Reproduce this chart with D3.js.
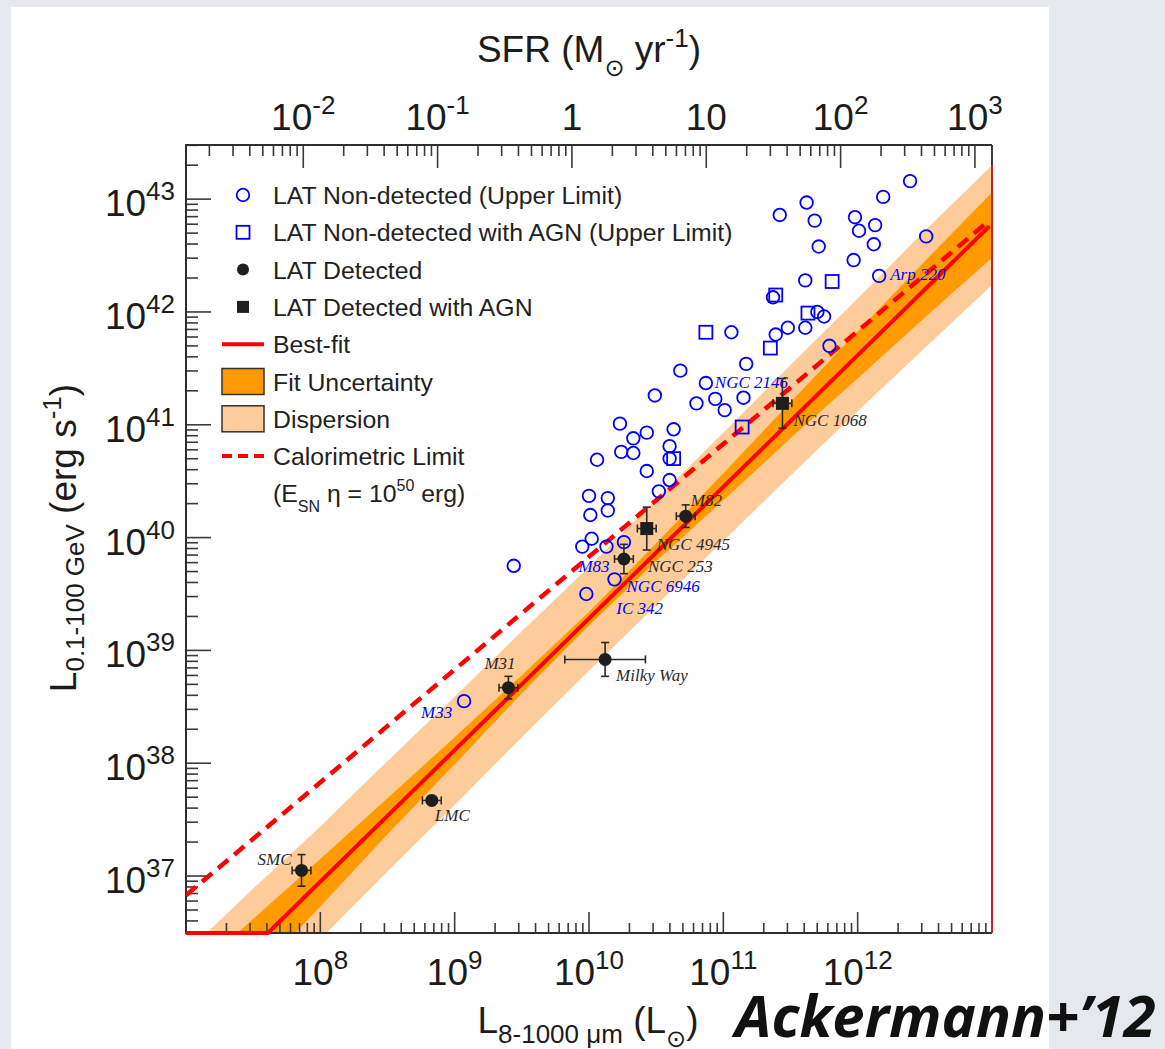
<!DOCTYPE html>
<html>
<head>
<meta charset="utf-8">
<script src="https://cdn.jsdelivr.net/npm/d3@7"></script>
<style>
    html, body { margin: 0; padding: 0; background: #e5e8ec; }
    svg { display: block; }
</style>
</head>
<body>
<svg id="chart" width="1165" height="1049"></svg>
<script>
// Gamma-ray vs. total IR luminosity of star-forming galaxies (Ackermann+ 2012).
// Every value below is log10 of a luminosity.

// LAT detected galaxies (filled circles)
const detNames = ["SMC", "LMC", "M31", "Milky Way", "NGC 253", "M82"];
const detLogLIR = [7.86, 8.83, 9.40, 10.12, 10.26, 10.72];
const detLogLG = [37.05, 37.67, 38.67, 38.92, 39.81, 40.19];
const detErrLIR = [0.07, 0.07, 0.07, 0.30, 0.07, 0.07];
const detErrLG = [0.14, 0.03, 0.10, 0.15, 0.13, 0.10];

// LAT detected with AGN (filled squares)
const agnNames = ["NGC 4945", "NGC 1068"];
const agnLogLIR = [10.43, 11.44];
const agnLogLG = [40.08, 41.19];
const agnErrLIR = [0.07, 0.07];
const agnErrLG = [0.19, 0.22];

// LAT non-detected, upper limits (open circles). The first six carry a name.
const ulNames = ["Arp 220", "NGC 2146", "M83", "NGC 6946", "IC 342", "M33"];
const ulLogLIR = [12.16, 10.87, 10.13, 10.19, 9.98, 9.07,
    12.39, 12.19, 11.62, 11.42, 11.68, 11.98, 12.13, 12.01, 12.51, 11.71,
    12.12, 11.97, 11.61, 11.37, 11.70, 11.75, 11.48, 11.61, 11.39, 11.06,
    11.79, 11.17, 10.68, 10.49, 10.80, 10.94, 11.15, 11.01, 10.23, 10.43,
    10.63, 10.33, 10.60, 10.24, 10.33, 10.60, 10.06, 10.43, 10.60, 10.52,
    10.00, 10.14, 10.01, 10.14, 10.02, 9.95, 10.26, 9.44];
const ulLogLG = [42.32, 41.37, 39.92, 39.63, 39.50, 38.55,
    43.16, 43.02, 42.97, 42.86, 42.81, 42.84, 42.77, 42.72, 42.67, 42.58,
    42.60, 42.46, 42.28, 42.13, 42.00, 41.96, 41.86, 41.86, 41.80, 41.82,
    41.70, 41.54, 41.48, 41.26, 41.19, 41.23, 41.24, 41.13, 41.01, 40.93,
    40.96, 40.88, 40.81, 40.76, 40.75, 40.70, 40.69, 40.59, 40.51, 40.41,
    40.37, 40.35, 40.20, 40.24, 39.99, 39.92, 39.96, 39.75];

// LAT non-detected with AGN, upper limits (open squares)
const ulAgnLogLIR = [11.81, 11.39, 11.63, 10.87, 11.35, 11.14, 10.63];
const ulAgnLogLG = [42.27, 42.15, 41.99, 41.82, 41.68, 40.98, 40.70];

// Best-fit line (runs along the lower frame until it enters the plot)
const fitLogLIR = [7.00, 7.61, 12.98];
const fitLogLG = [36.495, 36.495, 42.76];

// Calorimetric limit (E_SN eta = 1e50 erg)
const caloLogLIR = [7.00, 12.98];
const caloLogLG = [36.83, 42.81];

// Fit-uncertainty and dispersion bands
const bandLogLIR = [7.0, 7.5, 8.0, 8.5, 9.0, 9.5, 10.0, 10.5, 11.0, 11.5, 12.0, 12.5, 13.0];
const uncLo = [35.46, 36.10, 36.73, 37.37, 37.99, 38.62, 39.22, 39.79, 40.33, 40.88, 41.41, 41.95, 42.48];
const uncHi = [36.08, 36.62, 37.15, 37.69, 38.23, 38.78, 39.34, 39.95, 40.57, 41.20, 41.83, 42.45, 43.06];
const dispLo = [35.22, 35.83, 36.44, 37.04, 37.63, 38.23, 38.82, 39.40, 39.97, 40.55, 41.12, 41.68, 42.24];
const dispHi = [36.32, 36.89, 37.44, 38.02, 38.59, 39.17, 39.74, 40.34, 40.93, 41.53, 42.12, 42.72, 43.30];

// SFR per unit L_IR used for the top axis
const sfrPerLIR = 1.34e-10;

const legendItems = [
    "LAT Non-detected (Upper Limit)",
    "LAT Non-detected with AGN (Upper Limit)",
    "LAT Detected",
    "LAT Detected with AGN",
    "Best-fit",
    "Fit Uncertainty",
    "Dispersion",
    "Calorimetric Limit"
];

// label offsets (px) from the marker to the start of the name
const labelOffset = {
    "Arp 220": [11, 4], "NGC 2146": [9, 5], "M83": [-28, 25], "NGC 6946": [12, 13],
    "IC 342": [30, 20], "M33": [-43, 17], "SMC": [-44, -5], "LMC": [3, 21],
    "M31": [-24, -19], "Milky Way": [11, 22], "NGC 253": [24, 13], "M82": [5, -10],
    "NGC 4945": [10, 21], "NGC 1068": [11, 23]
};

const sans = "'Liberation Sans', Arial, Helvetica, sans-serif";
const serif = "'Liberation Serif', 'Times New Roman', serif";
const red = "#ff0000";
const blue = "#0000ff";
const ink = "#1c1c1c";

const frame = { left: 186, right: 992, top: 145, bottom: 933 };

const x = d3.scaleLog().domain([1e7, 1e13]).range([frame.left, frame.right]);
const y = d3.scaleLog().domain([10 ** 36.495, 10 ** 43.48]).range([frame.bottom, frame.top]);
const sfr = d3.scaleLog().domain([1e7 * sfrPerLIR, 1e13 * sfrPerLIR]).range([frame.left, frame.right]);

const X = v => x(10 ** v);
const Y = v => y(10 ** v);
const isMajor = v => Math.abs(Math.log10(v) - Math.round(Math.log10(v))) < 1e-6;

const svg = d3.select("#chart");

// page background and white sheet
svg.append("rect").attr("width", 1165).attr("height", 1049).attr("fill", "#e5e8ec");
svg.append("rect").attr("x", 11).attr("y", 7).attr("width", 1038).attr("height", 1042).attr("fill", "#fff");

const defs = svg.append("defs");
defs.append("clipPath").attr("id", "plotClip")
    .append("rect")
    .attr("x", frame.left).attr("y", frame.top)
    .attr("width", frame.right - frame.left).attr("height", frame.bottom - frame.top);
// lines may sit on the lower frame, so their clip reaches a little below it
defs.append("clipPath").attr("id", "lineClip")
    .append("rect")
    .attr("x", frame.left).attr("y", frame.top)
    .attr("width", frame.right - frame.left).attr("height", frame.bottom - frame.top + 3);

const plot = svg.append("g").attr("clip-path", "url(#plotClip)");

// bands
const band = (lo, hi) => bandLogLIR.map((l, i) => ({ l: l, lo: lo[i], hi: hi[i] }));
const area = d3.area().x(d => X(d.l)).y0(d => Y(d.lo)).y1(d => Y(d.hi));
plot.append("path").datum(band(dispLo, dispHi)).attr("d", area).attr("fill", "#fecc9a");
plot.append("path").datum(band(uncLo, uncHi)).attr("d", area).attr("fill", "#ff9a00");

// ticks
const ticks = svg.append("g").attr("stroke", "#3a3a3a").attr("stroke-width", 1.6);
ticks.selectAll(".xt").data(x.ticks()).join("line")
    .attr("x1", d => x(d)).attr("x2", d => x(d))
    .attr("y1", frame.bottom).attr("y2", d => frame.bottom - (isMajor(d) ? 21 : 10));
ticks.selectAll(".st").data(sfr.ticks()).join("line")
    .attr("x1", d => sfr(d)).attr("x2", d => sfr(d))
    .attr("y1", frame.top).attr("y2", d => frame.top + (isMajor(d) ? 23 : 11));
ticks.selectAll(".yt").data(y.ticks()).join("line")
    .attr("y1", d => y(d)).attr("y2", d => y(d))
    .attr("x1", frame.left).attr("x2", d => frame.left + (isMajor(d) ? 25 : 12));

// frame
const fr = svg.append("g").attr("stroke-width", 2).attr("fill", "none");
fr.append("path")
    .attr("d", `M${frame.right},${frame.top}H${frame.left}V${frame.bottom}H${frame.right}`)
    .attr("stroke", "#2e2e2e");
fr.append("line")
    .attr("x1", frame.right).attr("x2", frame.right)
    .attr("y1", frame.top).attr("y2", frame.bottom)
    .attr("stroke", "#3a3a3a");
fr.append("line")
    .attr("x1", frame.right).attr("x2", frame.right)
    .attr("y1", Y(dispHi[dispHi.length - 1])).attr("y2", frame.bottom)
    .attr("stroke", "#c8242a");

// lines
const lines = svg.append("g").attr("clip-path", "url(#lineClip)").attr("fill", "none").attr("stroke", red);
const line = d3.line().x(d => X(d[0])).y(d => Y(d[1]));
lines.append("path")
    .datum(caloLogLIR.map((l, i) => [l, caloLogLG[i]]))
    .attr("d", line).attr("stroke-width", 4.5).attr("stroke-dasharray", "13,8");
lines.append("path")
    .datum(fitLogLIR.map((l, i) => [l, fitLogLG[i]]))
    .attr("d", line).attr("stroke-width", 4);

// tick labels: 10^n with superscript
function powLabel(sel, exp) {
    if (exp === 0) { sel.text("1"); return; }
    if (exp === 1) { sel.text("10"); return; }
    sel.text("10");
    sel.append("tspan").attr("font-size", 26).attr("dy", -16).text(exp);
}
const labels = svg.append("g").attr("font-family", sans).attr("font-size", 37).attr("fill", ink);
x.ticks().filter(isMajor).filter(d => x(d) > frame.left + 2 && x(d) < frame.right - 2)
    .forEach(d => labels.append("text").attr("x", x(d)).attr("y", 985)
        .attr("text-anchor", "middle").call(powLabel, Math.round(Math.log10(d))));
sfr.ticks().filter(isMajor)
    .forEach(d => labels.append("text").attr("x", sfr(d)).attr("y", 130)
        .attr("text-anchor", "middle").call(powLabel, Math.round(Math.log10(d))));
y.ticks().filter(isMajor)
    .forEach(d => labels.append("text").attr("x", 175).attr("y", y(d) + 17)
        .attr("text-anchor", "end").call(powLabel, Math.round(Math.log10(d))));

// axis titles
const sun = "\u2299";
const sunFont = "'DejaVu Sans', sans-serif";
const topTitle = labels.append("text").attr("x", 589).attr("y", 62).attr("text-anchor", "middle");
topTitle.append("tspan").text("SFR (M");
topTitle.append("tspan").attr("font-size", 24).attr("dy", 14).attr("font-family", sunFont).text(sun);
topTitle.append("tspan").attr("dy", -14).text(" yr");
topTitle.append("tspan").attr("font-size", 26).attr("dy", -15).text("-1");
topTitle.append("tspan").attr("dy", 15).text(")");

const botTitle = labels.append("text").attr("x", 588).attr("y", 1033).attr("text-anchor", "middle");
botTitle.append("tspan").text("L");
botTitle.append("tspan").attr("font-size", 26).attr("dy", 10).text("8-1000 \u03bcm");
botTitle.append("tspan").attr("dy", -10).text(" (L");
botTitle.append("tspan").attr("font-size", 24).attr("dy", 14).attr("font-family", sunFont).text(sun);
botTitle.append("tspan").attr("dy", -14).text(")");

const yTitle = labels.append("text")
    .attr("transform", "translate(76,538) rotate(-90)").attr("text-anchor", "middle");
yTitle.append("tspan").text("L");
yTitle.append("tspan").attr("font-size", 26).attr("dy", 8).text("0.1-100 GeV");
yTitle.append("tspan").attr("dy", -8).text(" (erg s");
yTitle.append("tspan").attr("font-size", 26).attr("dy", -15).text("-1");
yTitle.append("tspan").attr("dy", 15).text(")");

// markers
const marks = svg.append("g");
const openCircle = (g, cx, cy) => g.append("circle").attr("cx", cx).attr("cy", cy).attr("r", 6.3)
    .attr("fill", "none").attr("stroke", blue).attr("stroke-width", 1.8);
const openSquare = (g, cx, cy) => g.append("rect").attr("x", cx - 6.5).attr("y", cy - 6.5)
    .attr("width", 13).attr("height", 13)
    .attr("fill", "none").attr("stroke", blue).attr("stroke-width", 1.8);

ulLogLIR.forEach((l, i) => openCircle(marks, X(l), Y(ulLogLG[i])));
ulAgnLogLIR.forEach((l, i) => openSquare(marks, X(l), Y(ulAgnLogLG[i])));

function errorBars(g, l, gl, el, eg) {
    const cx = X(l), cy = Y(gl);
    const x0 = X(l - el), x1 = X(l + el), y0 = Y(gl - eg), y1 = Y(gl + eg);
    const e = g.append("g").attr("stroke", "#2a2a2a").attr("stroke-width", 1.6);
    e.append("line").attr("x1", x0).attr("x2", x1).attr("y1", cy).attr("y2", cy);
    e.append("line").attr("x1", cx).attr("x2", cx).attr("y1", y0).attr("y2", y1);
    [x0, x1].forEach(v => e.append("line").attr("x1", v).attr("x2", v).attr("y1", cy - 4).attr("y2", cy + 4));
    [y0, y1].forEach(v => e.append("line").attr("y1", v).attr("y2", v).attr("x1", cx - 4).attr("x2", cx + 4));
}
detLogLIR.forEach((l, i) => {
    errorBars(marks, l, detLogLG[i], detErrLIR[i], detErrLG[i]);
    marks.append("circle").attr("cx", X(l)).attr("cy", Y(detLogLG[i])).attr("r", 6.5).attr("fill", "#1e1e1e");
});
agnLogLIR.forEach((l, i) => {
    errorBars(marks, l, agnLogLG[i], agnErrLIR[i], agnErrLG[i]);
    marks.append("rect").attr("x", X(l) - 6.5).attr("y", Y(agnLogLG[i]) - 6.5)
        .attr("width", 13).attr("height", 13).attr("fill", "#1e1e1e");
});

// galaxy names
const names = svg.append("g").attr("font-family", serif).attr("font-style", "italic").attr("font-size", 17);
function nameLabel(name, l, gl, color) {
    const o = labelOffset[name];
    names.append("text").attr("x", X(l) + o[0]).attr("y", Y(gl) + o[1]).attr("fill", color).text(name);
}
ulNames.forEach((n, i) => nameLabel(n, ulLogLIR[i], ulLogLG[i], blue));
detNames.forEach((n, i) => nameLabel(n, detLogLIR[i], detLogLG[i], "#2a2a2a"));
agnNames.forEach((n, i) => nameLabel(n, agnLogLIR[i], agnLogLG[i], "#2a2a2a"));

// legend
const leg = svg.append("g").attr("font-family", sans).attr("font-size", 24.8).attr("fill", "#222");
const rowY = i => 195 + i * 37.3;
const keyX = 243, keyL = 222, keyR = 264, textX = 273;
openCircle(leg, keyX, rowY(0));
openSquare(leg, keyX, rowY(1));
leg.append("circle").attr("cx", keyX).attr("cy", rowY(2)).attr("r", 6).attr("fill", "#1e1e1e");
leg.append("rect").attr("x", keyX - 6).attr("y", rowY(3) - 6).attr("width", 12).attr("height", 12).attr("fill", "#1e1e1e");
leg.append("line").attr("x1", keyL).attr("x2", keyR).attr("y1", rowY(4)).attr("y2", rowY(4))
    .attr("stroke", red).attr("stroke-width", 4);
[["#ff9a00", 5], ["#fecc9a", 6]].forEach(([c, i]) => leg.append("rect")
    .attr("x", keyL).attr("y", rowY(i) - 13).attr("width", keyR - keyL).attr("height", 26)
    .attr("fill", c).attr("stroke", "#333").attr("stroke-width", 1.5));
leg.append("line").attr("x1", keyL).attr("x2", keyR).attr("y1", rowY(7)).attr("y2", rowY(7))
    .attr("stroke", red).attr("stroke-width", 4).attr("stroke-dasharray", "10,6");
legendItems.forEach((t, i) => leg.append("text").attr("x", textX).attr("y", rowY(i) + 9).text(t));
const caloNote = leg.append("text").attr("x", textX).attr("y", rowY(8) + 9);
caloNote.append("tspan").text("(E");
caloNote.append("tspan").attr("font-size", 16).attr("dy", 10).text("SN");
caloNote.append("tspan").attr("dy", -10).text(" \u03b7 = 10");
caloNote.append("tspan").attr("font-size", 16).attr("dy", -11).text("50");
caloNote.append("tspan").attr("dy", 11).text(" erg)");

// citation
svg.append("text").attr("x", 735).attr("y", 1037)
    .attr("font-family", "'Open Sans', sans-serif").attr("font-weight", 700).attr("font-style", "italic")
    .attr("font-size", 58).attr("fill", "#111").text("Ackermann+\u201912");
</script>
</body>
</html>
